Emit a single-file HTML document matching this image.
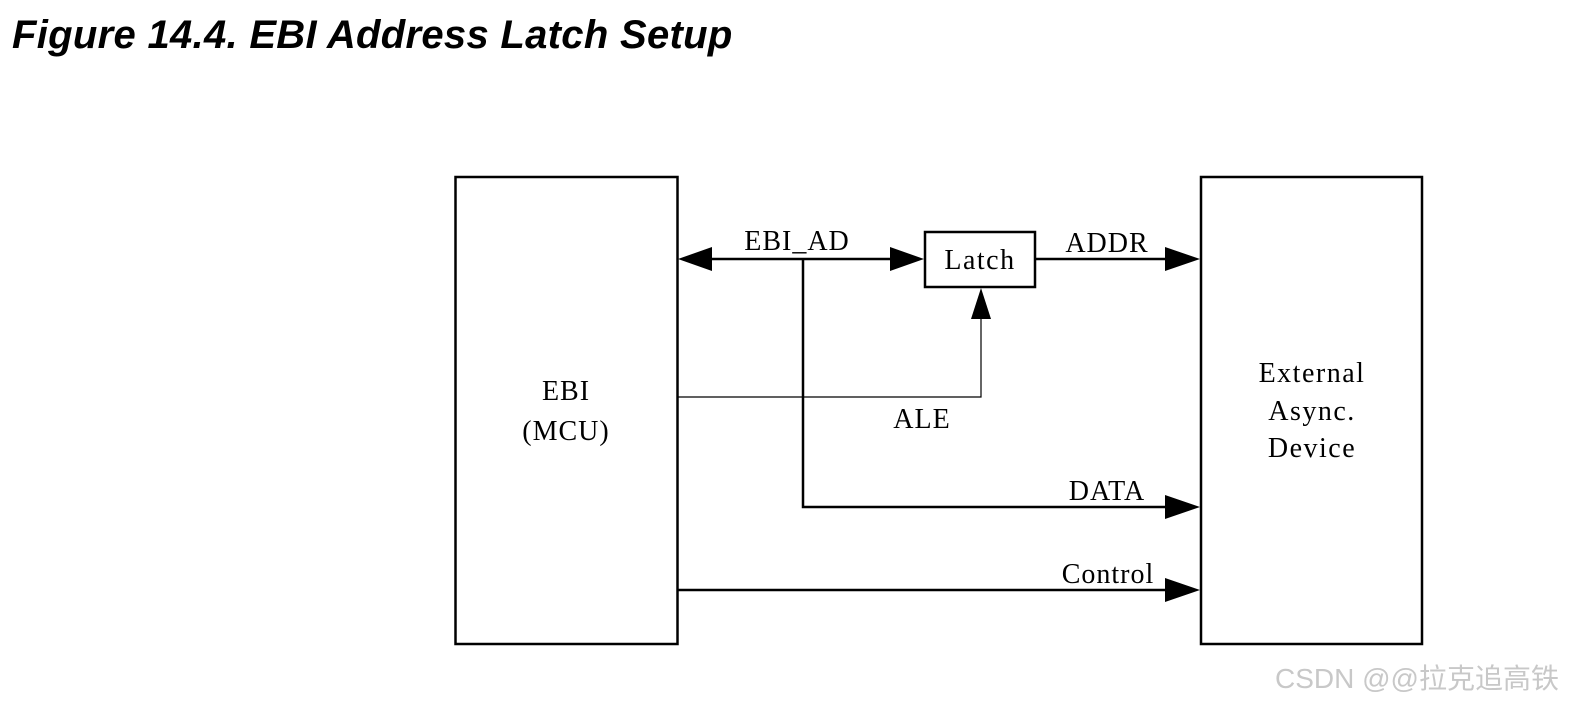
<!DOCTYPE html>
<html><head><style>
body{margin:0;background:#fff;width:1571px;height:705px;overflow:hidden;position:relative}
.t{position:absolute;left:12px;top:13px;font:italic bold 40px "Liberation Sans",sans-serif;color:#000;letter-spacing:0.3px}
svg{position:absolute;left:0;top:0}
</style></head><body>
<div class="t">Figure 14.4. EBI Address Latch Setup</div>
<svg width="1571" height="705" xmlns="http://www.w3.org/2000/svg">
<g fill="none" stroke="#000" stroke-width="2.5">
<rect x="455.5" y="177" width="222" height="467"/>
<rect x="1201" y="177" width="221" height="467"/>
<rect x="925" y="232" width="110" height="55"/>
<line x1="710" y1="259" x2="892" y2="259"/>
<line x1="1035" y1="259" x2="1168" y2="259"/>
<polyline points="803,259 803,507 1168,507"/>
<line x1="677" y1="590" x2="1168" y2="590"/>
</g>
<polyline points="677,397 981,397 981,318" fill="none" stroke="#000" stroke-width="1.2"/>
<g fill="#000">
<polygon points="678,259 712,247 712,271"/>
<polygon points="924,259 890,247 890,271"/>
<polygon points="1200,259 1165,247 1165,271"/>
<polygon points="1200,507 1165,495 1165,519"/>
<polygon points="1200,590 1165,578 1165,602"/>
<polygon points="981,288 971,319 991,319"/>
</g>
<g font-family="Liberation Serif,serif" font-size="28" text-anchor="middle" fill="#000">
<text x="797" y="250" letter-spacing="1">EBI_AD</text>
<text x="980" y="269" letter-spacing="1.5">Latch</text>
<text x="1107" y="252" letter-spacing="1">ADDR</text>
<text x="922" y="428" letter-spacing="1">ALE</text>
<text x="1107" y="500" letter-spacing="1">DATA</text>
<text x="1108" y="583" letter-spacing="1">Control</text>
<text x="566" y="400" letter-spacing="1">EBI</text>
<text x="566" y="440" letter-spacing="1">(MCU)</text>
<text x="1312" y="382" letter-spacing="1.5">External</text>
<text x="1312" y="420" letter-spacing="1.5">Async.</text>
<text x="1312" y="457" letter-spacing="1.5">Device</text>
</g>
<text x="1275" y="688" font-family="Liberation Sans,Noto Sans CJK SC,sans-serif" font-size="28" fill="#c8c8c8">CSDN @@拉克追高铁</text>
</svg>
</body></html>
